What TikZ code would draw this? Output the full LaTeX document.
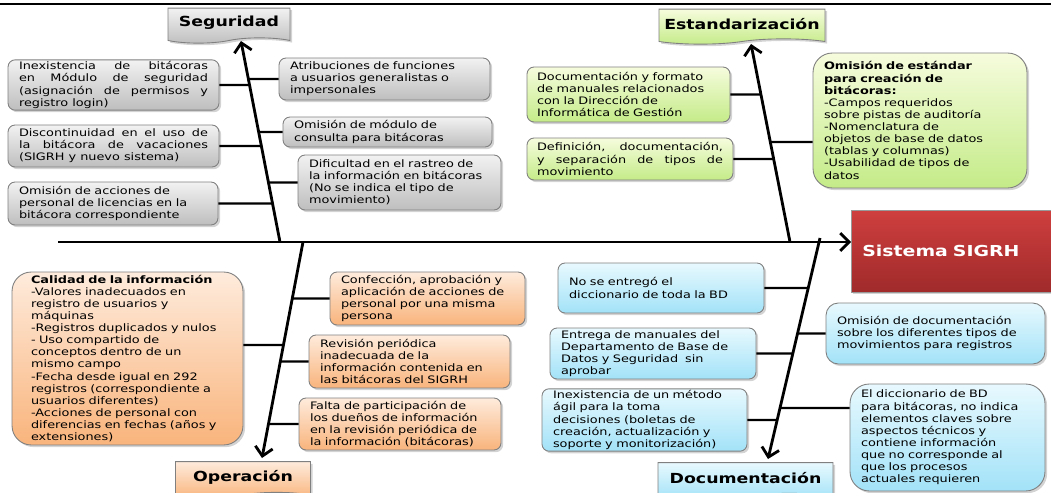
\documentclass[tikz,border=0pt]{standalone}
\usepackage{fontspec}
\setmainfont[FakeStretch=1.25]{DejaVu Sans}
\usetikzlibrary{arrows.meta,shadows,shapes.symbols}
\definecolor{grisA}{HTML}{F2F2F2}
\definecolor{grisB}{HTML}{BEBEBE}
\definecolor{verdeA}{HTML}{F6FCDD}
\definecolor{verdeB}{HTML}{C4EB88}
\definecolor{naranjaA}{HTML}{FEEBDC}
\definecolor{naranjaB}{HTML}{F9B47C}
\definecolor{celesteA}{HTML}{E8F9FE}
\definecolor{celesteB}{HTML}{A2E2F8}
\definecolor{rojoA}{HTML}{CF3F3F}
\definecolor{rojoB}{HTML}{A02A2A}
\tikzset{
  sombra/.style={drop shadow={shadow xshift=1.2pt, shadow yshift=-1.2pt, opacity=.35}},
  causa/.style={draw=black!50, line width=0.5pt, rounded corners=4pt, align=left,
    inner xsep=0.22cm, inner ysep=1pt, font=\fontsize{5.85}{6.9}\selectfont, sombra},
  gris/.style={causa, top color=grisA, bottom color=grisB},
  verde/.style={causa, top color=verdeA, bottom color=verdeB},
  naranja/.style={causa, top color=naranjaA, bottom color=naranjaB},
  celeste/.style={causa, top color=celesteA, bottom color=celesteB},
  etiqueta/.style={shape=tape, tape bend top=none, tape bend height=3pt, draw=black!50,
    line width=0.5pt, inner sep=1pt, font=\fontsize{7.9}{9}\selectfont\bfseries, sombra},
  espina/.style={line width=1.6pt, -{Straight Barb[length=5pt,width=10pt]}},
  rama/.style={line width=1.2pt}
}
\begin{document}
\begin{tikzpicture}[x=0.02cm, y=-0.02cm]
\useasboundingbox (0,0) rectangle (1051,493);
\draw[line width=1pt] (0,4) -- (1051,4);

% efecto
\node[anchor=west, draw=black!40, top color=rojoA, bottom color=rojoB, text=white,
  minimum width=4.3cm, minimum height=1.64cm, text width=3.86cm, align=left,
  inner xsep=0.22cm, font=\fontsize{8.6}{10}\selectfont\bfseries, sombra]
  (sis) at (851,251) {Sistema SIGRH};

% categorias
\node[etiqueta, top color=grisA, bottom color=grisB, minimum width=2.44cm, minimum height=0.7cm] (seg) at (229,23) {Seguridad};
\node[etiqueta, top color=verdeA, bottom color=verdeB, minimum width=3.32cm, minimum height=0.7cm] (est) at (742,24) {Estandarización};
\node[etiqueta, top color=naranjaA, bottom color=naranjaB, minimum width=2.7cm, minimum height=0.72cm] (ope) at (243,477) {Operación};
\node[etiqueta, top color=celesteA, bottom color=celesteB, minimum width=3.5cm, minimum height=0.72cm] (doc) at (745.5,478) {Documentación};

% espinas
\coordinate (cola) at (58,242);
\coordinate (sA) at (280,242);
\coordinate (sB) at (241,41);
\coordinate (eA) at (790,242);
\coordinate (eB) at (751,44);
\coordinate (oA) at (303,242);
\coordinate (oB) at (262,458);
\coordinate (dA) at (820,238);
\coordinate (dB) at (768,459);
\draw[espina] (cola) -- (cola -| sis.west);
\draw[espina] (sA) -- (sB);
\draw[espina] (eA) -- (eB);
\draw[espina] (oA) -- (oB);
\draw[espina] (dA) -- (dB);

% Seguridad
\node[gris, align=justify, text width=3.78cm, minimum height=1cm] (s1) at (113.5,85)
  {Inexistencia de bitácoras\linebreak en Módulo de seguridad\linebreak (asignación de permisos y\linebreak registro login)};
\node[gris, text width=3.78cm, minimum height=0.84cm] (s2) at (384.5,79)
  {Atribuciones de funciones\\a usuarios generalistas o\\impersonales};
\node[gris, align=justify, text width=3.78cm, minimum height=0.84cm] (s3) at (113.5,146)
  {Discontinuidad en el uso de\linebreak la bitácora de vacaciones\linebreak (SIGRH y nuevo sistema)};
\node[gris, text width=3.74cm, minimum height=0.6cm] (s4) at (387.5,132)
  {Omisión de módulo de\\consulta para bitácoras};
\node[gris, text width=3.62cm, minimum height=1.1cm] (s5) at (399.5,182.5)
  {Dificultad en el rastreo de\\la información en bitácoras\\(No se indica el tipo de\\movimiento)};
\node[gris, text width=3.76cm, minimum height=0.86cm] (s6) at (113,203.5)
  {Omisión de acciones de\\personal de licencias en la\\bitácora correspondiente};

% Estandarizacion
\node[verde, inner xsep=0.2cm, text width=3.66cm, minimum height=1.1cm] (e1) at (628.5,94.5)
  {Documentación y formato\\de manuales relacionados\\con la Dirección de\\Informática de Gestión};
\node[verde, align=justify, inner xsep=0.2cm, text width=3.72cm, minimum height=0.84cm] (e2) at (630,159)
  {Definición, documentación,\linebreak y separación de tipos de\linebreak movimiento};
\node[verde, rounded corners=11pt, text width=3.84cm, minimum height=2.7cm] (e3) at (920,120.5)
  {{\bfseries Omisión de estándar}\\{\bfseries para creación de}\\{\bfseries bitácoras:}\\-Campos requeridos\\sobre pistas de auditoría\\-Nomenclatura de\\objetos de base de datos\\(tablas y columnas)\\-Usabilidad de tipos de\\datos};

% Operacion
\node[naranja, rounded corners=11pt, inner xsep=0.38cm, text width=3.86cm, minimum height=3.46cm] (o1) at (127.5,358.5)
  {{\bfseries Calidad de la información}\\-Valores inadecuados en\\registro de usuarios y\\máquinas\\-Registros duplicados y nulos\\- Uso compartido de\\conceptos dentro de un\\mismo campo\\-Fecha desde igual en 292\\registros (correspondiente a\\usuarios diferentes)\\-Acciones de personal con\\diferencias en fechas (años y\\extensiones)};
\node[naranja, text width=3.46cm, minimum height=1.06cm] (o2) at (427.5,298.5)
  {Confección, aprobación y\\aplicación de acciones de\\personal por una misma\\persona};
\node[naranja, text width=3.58cm, minimum height=1.06cm] (o3) at (409.5,361.5)
  {Revisión periódica\\inadecuada de la\\información contenida en\\las bitácoras del SIGRH};
\node[naranja, text width=3.6cm, minimum height=1.04cm] (o4) at (400,424)
  {Falta de participación de\\los dueños de información\\en la revisión periódica de\\la información (bitácoras)};

% Documentacion
\node[celeste, text width=3.68cm, minimum height=1cm] (d1) at (661,288)
  {No se entregó el\\diccionario de toda la BD};
\node[celeste, text width=3.68cm, minimum height=1.02cm] (d2) at (653,353.5)
  {Entrega de manuales del\\Departamento de Base de\\Datos y Seguridad\ \ sin\\aprobar};
\node[celeste, text width=3.66cm, minimum height=1.2cm] (d3) at (644.5,420)
  {Inexistencia de un método\\ágil para la toma\\decisiones (boletas de\\creación, actualización y\\soporte y monitorización)};
\node[celeste, rounded corners=7pt, text width=3.94cm, minimum height=1.22cm] (d4) at (935.5,333.5)
  {Omisión de documentación\\sobre los diferentes tipos de\\movimientos para registros};
\node[celeste, rounded corners=11pt, text width=3.46cm, minimum height=2.14cm] (d5) at (947.5,437.5)
  {El diccionario de BD\\para bitácoras, no indica\\elementos claves sobre\\aspectos técnicos y\\contiene información\\que no corresponde al\\que los procesos\\actuales requieren};

% ramas
\coordinate (e3a) at ([yshift=-0.43cm]e3.west);
\coordinate (e3b) at ([yshift=-0.43cm]e3.east);
\coordinate (o1a) at ([yshift=0.27cm]o1.east);
\coordinate (o1b) at ([yshift=0.27cm]o1.west);
\coordinate (d5a) at ([yshift=0.59cm]d5.west);
\coordinate (d5b) at ([yshift=0.59cm]d5.east);
\draw[rama] (s1.east) -- (intersection of s1.east--s1.west and sA--sB);
\draw[rama] (s2.west) -- (intersection of s2.east--s2.west and sA--sB);
\draw[rama] (s3.east) -- (intersection of s3.east--s3.west and sA--sB);
\draw[rama] (s4.west) -- (intersection of s4.east--s4.west and sA--sB);
\draw[rama] (s5.west) -- (intersection of s5.east--s5.west and sA--sB);
\draw[rama] (s6.east) -- (intersection of s6.east--s6.west and sA--sB);
\draw[rama] (e1.east) -- (intersection of e1.east--e1.west and eA--eB);
\draw[rama] (e2.east) -- (intersection of e2.east--e2.west and eA--eB);
\draw[rama] (e3a) -- (intersection of e3a--e3b and eA--eB);
\draw[rama] (o1a) -- (intersection of o1a--o1b and oA--oB);
\draw[rama] (o2.west) -- (intersection of o2.east--o2.west and oA--oB);
\draw[rama] (o3.west) -- (intersection of o3.east--o3.west and oA--oB);
\draw[rama] (o4.west) -- (intersection of o4.east--o4.west and oA--oB);
\draw[rama] (d1.east) -- (intersection of d1.east--d1.west and dA--dB);
\draw[rama] (d2.east) -- (intersection of d2.east--d2.west and dA--dB);
\draw[rama] (d3.east) -- (intersection of d3.east--d3.west and dA--dB);
\draw[rama] (d4.west) -- (intersection of d4.east--d4.west and dA--dB);
\draw[rama] (d5a) -- (intersection of d5a--d5b and dA--dB);
\end{tikzpicture}
\end{document}
